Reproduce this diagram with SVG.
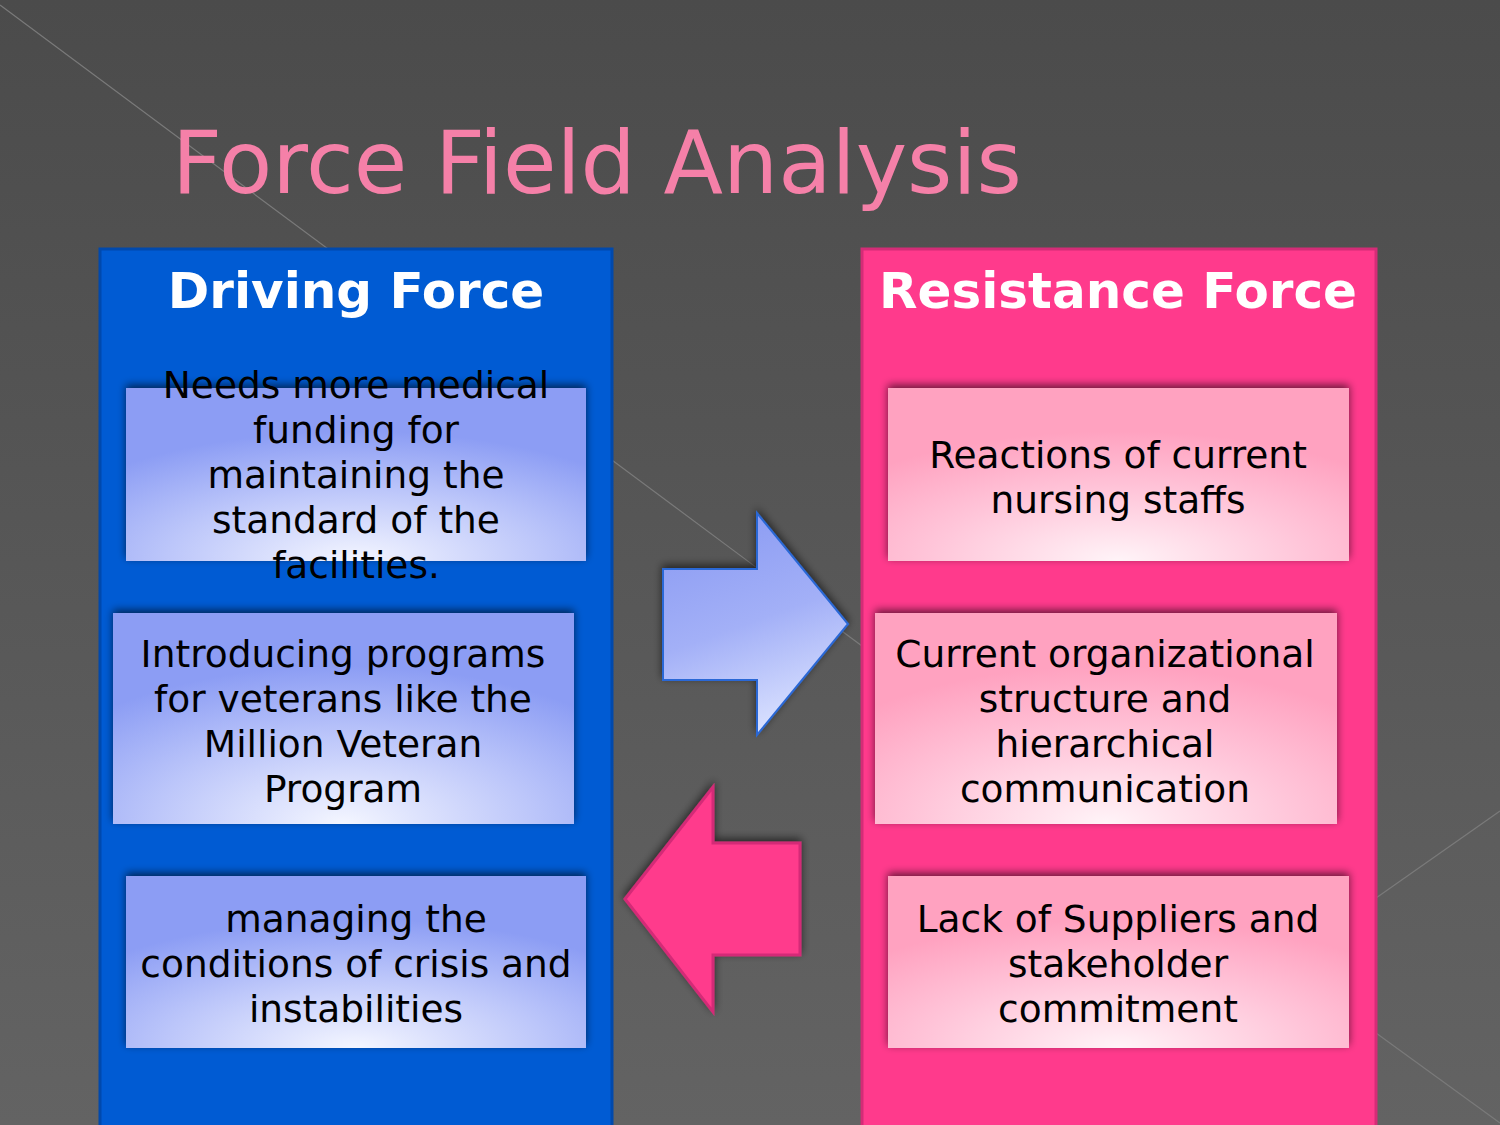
<svg xmlns="http://www.w3.org/2000/svg" width="1500" height="1125" viewBox="0 0 1500 1125">
<defs>
<linearGradient id="bg" x1="0" y1="0" x2="0" y2="1">
<stop offset="0" stop-color="#4b4b4b"/>
<stop offset="1" stop-color="#636363"/>
</linearGradient>
<radialGradient id="blueBox" cx="0.5" cy="1" r="0.75">
<stop offset="0" stop-color="#f4f6ff"/>
<stop offset="0.55" stop-color="#bcc6fa"/>
<stop offset="1" stop-color="#8c9df4"/>
</radialGradient>
<radialGradient id="pinkBox" cx="0.5" cy="1" r="0.75">
<stop offset="0" stop-color="#fff4f8"/>
<stop offset="0.55" stop-color="#ffc5d9"/>
<stop offset="1" stop-color="#ffa2c0"/>
</radialGradient>
<linearGradient id="arrowBlue" x1="0.3" y1="0" x2="0.6" y2="1">
<stop offset="0" stop-color="#8b9bf3"/>
<stop offset="0.5" stop-color="#a3b0f7"/>
<stop offset="1" stop-color="#dde4ff"/>
</linearGradient>
<filter id="shadow" x="-10%" y="-20%" width="120%" height="140%">
<feGaussianBlur in="SourceAlpha" stdDeviation="4"/>
<feOffset dx="0" dy="-3"/>
<feComponentTransfer><feFuncA type="linear" slope="0.6"/></feComponentTransfer>
<feMerge><feMergeNode/><feMergeNode in="SourceGraphic"/></feMerge>
</filter>
</defs>
<style>
.title{font-family:"DejaVu Sans",sans-serif;font-size:87px;fill:#f580a8}
.head{font-family:"DejaVu Sans",sans-serif;font-size:50px;font-weight:bold;fill:#ffffff;text-anchor:middle}
.txt{font-family:"DejaVu Sans",sans-serif;font-size:37.5px;fill:#000000;text-anchor:middle}
.bline{stroke:#7a7a7a;stroke-width:1.2;fill:none}
</style>
<rect width="1500" height="1125" fill="url(#bg)"/>
<line class="bline" x1="0" y1="5" x2="862" y2="646"/>
<line class="bline" x1="1376" y1="898" x2="1500" y2="811"/>
<line class="bline" x1="1376" y1="1033" x2="1500" y2="1123"/>
<text class="title" x="172" y="193">Force Field Analysis</text>

<g id="driving-panel">
<rect x="100" y="249" width="512" height="880" fill="#005bd3" stroke="#0049ad" stroke-width="3"/>
<text class="head" x="356" y="308">Driving Force</text>
</g>
<g id="resistance-panel">
<rect x="862" y="249" width="514" height="880" fill="#ff3a8c" stroke="#d42c77" stroke-width="3"/>
<text class="head" x="1118" y="308">Resistance Force</text>
</g>

<g id="driving-1">
<rect x="126" y="388" width="460" height="173" fill="url(#blueBox)" filter="url(#shadow)"/>
<text class="txt"><tspan x="356" y="398">Needs more medical</tspan><tspan x="356" y="443">funding for</tspan><tspan x="356" y="488">maintaining the</tspan><tspan x="356" y="533">standard of the</tspan><tspan x="356" y="578">facilities.</tspan></text>
</g>
<g id="driving-2">
<rect x="113" y="613" width="461" height="211" fill="url(#blueBox)" filter="url(#shadow)"/>
<text class="txt"><tspan x="343" y="667">Introducing programs</tspan><tspan x="343" y="712">for veterans like the</tspan><tspan x="343" y="757">Million Veteran</tspan><tspan x="343" y="802">Program</tspan></text>
</g>
<g id="driving-3">
<rect x="126" y="876" width="460" height="172" fill="url(#blueBox)" filter="url(#shadow)"/>
<text class="txt"><tspan x="356" y="932">managing the</tspan><tspan x="356" y="977">conditions of crisis and</tspan><tspan x="356" y="1022">instabilities</tspan></text>
</g>

<g id="resistance-1">
<rect x="888" y="388" width="461" height="173" fill="url(#pinkBox)" filter="url(#shadow)"/>
<text class="txt"><tspan x="1118" y="468">Reactions of current</tspan><tspan x="1118" y="513">nursing staffs</tspan></text>
</g>
<g id="resistance-2">
<rect x="875" y="613" width="462" height="211" fill="url(#pinkBox)" filter="url(#shadow)"/>
<text class="txt"><tspan x="1105" y="667">Current organizational</tspan><tspan x="1105" y="712">structure and</tspan><tspan x="1105" y="757">hierarchical</tspan><tspan x="1105" y="802">communication</tspan></text>
</g>
<g id="resistance-3">
<rect x="888" y="876" width="461" height="172" fill="url(#pinkBox)" filter="url(#shadow)"/>
<text class="txt"><tspan x="1118" y="932">Lack of Suppliers and</tspan><tspan x="1118" y="977">stakeholder</tspan><tspan x="1118" y="1022">commitment</tspan></text>
</g>

<g id="connectors">
<polygon points="663,569 757,569 757,513 848,624 757,735 757,680 663,680" fill="url(#arrowBlue)" stroke="#2a68d6" stroke-width="2" filter="url(#shadow)"/>
<polygon points="800,843 713,843 713,787 625,899 713,1012 713,955 800,955" fill="#ff3a8c" stroke="#d42c77" stroke-width="3" filter="url(#shadow)"/>
</g>
</svg>
